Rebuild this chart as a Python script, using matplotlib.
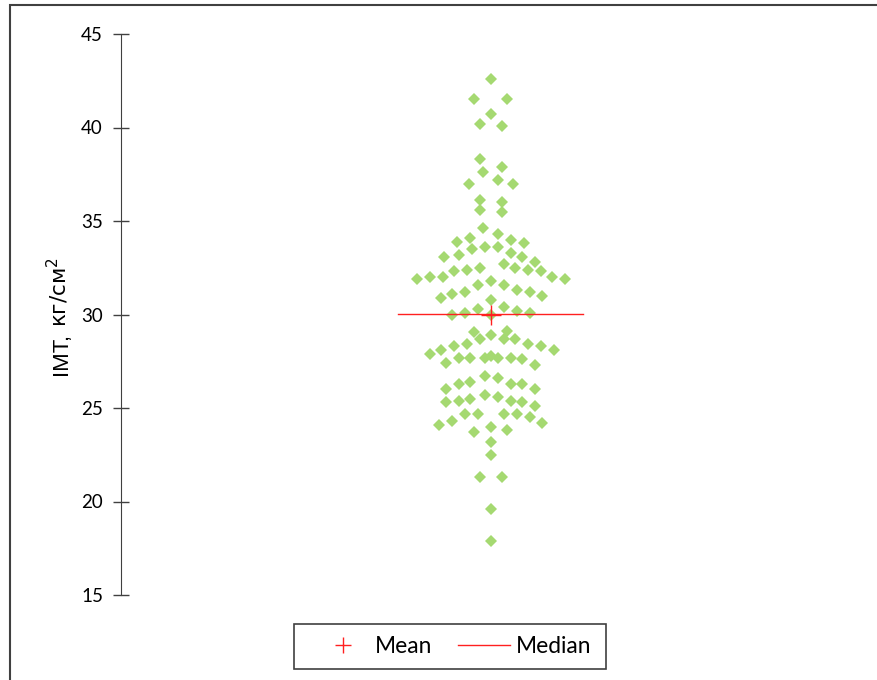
import matplotlib
matplotlib.use('Agg')
import matplotlib.pyplot as plt
from matplotlib.lines import Line2D
from matplotlib.patches import Rectangle

# BMI values, top to bottom, with horizontal swarm offsets
bmi = [42.6, 41.5, 41.5, 40.7, 40.2, 40.1, 38.3, 37.9, 37.6, 37.2,
       37.0, 37.0, 36.1, 36.0, 35.6, 35.5, 34.6, 34.3, 34.1, 34.0,
       33.9, 33.8, 33.6, 33.6, 33.5, 33.3, 33.2, 33.1, 33.1, 32.8,
       32.7, 32.5, 32.5, 32.4, 32.4, 32.3, 32.3, 32.0, 32.0, 32.0,
       31.9, 31.9, 31.8, 31.6, 31.6, 31.3, 31.2, 31.2, 31.1, 31.0,
       30.9, 30.8, 30.4, 30.3, 30.2, 30.1, 30.1, 30.0, 30.0, 29.1,
       29.05, 28.9, 28.7, 28.7, 28.7, 28.4, 28.4, 28.3, 28.3, 28.1,
       28.1, 27.9, 27.8, 27.7, 27.7, 27.7, 27.7, 27.7, 27.6, 27.4,
       27.3, 26.7, 26.6, 26.4, 26.3, 26.3, 26.3, 26.0, 26.0, 25.7,
       25.6, 25.5, 25.4, 25.4, 25.3, 25.3, 25.1, 24.7, 24.7, 24.7,
       24.7, 24.5, 24.3, 24.2, 24.1, 24.0, 23.8, 23.7, 23.2, 22.5,
       21.3, 21.3, 19.6, 17.9]
offset = [0.00, -0.09, 0.09, 0.00, -0.06, 0.06, -0.06, 0.06, -0.04, 0.04,
          -0.12, 0.12, -0.06, 0.06, -0.06, 0.06, -0.04, 0.04, -0.11, 0.11,
          -0.18, 0.18, -0.03, 0.04, -0.10, 0.11, -0.17, -0.25, 0.17, 0.24,
          0.07, -0.06, 0.13, -0.13, 0.20, -0.20, 0.27, -0.33, -0.26, 0.33,
          -0.40, 0.40, 0.00, -0.07, 0.07, 0.14, 0.21, -0.14, -0.21, 0.28,
          -0.27, 0.00, 0.07, -0.07, 0.14, -0.14, 0.21, -0.21, 0.00, 0.09,
          -0.09, 0.00, -0.06, 0.07, 0.13, -0.13, 0.20, -0.20, 0.27, -0.27,
          0.34, -0.33, 0.00, -0.17, -0.11, -0.03, 0.04, 0.11, 0.17, -0.24,
          0.24, -0.03, 0.04, -0.11, -0.17, 0.11, 0.17, -0.24, 0.24, -0.03,
          0.04, -0.11, -0.17, 0.11, 0.17, -0.24, 0.24, -0.14, -0.07, 0.07,
          0.14, 0.21, -0.21, 0.28, -0.28, 0.00, 0.09, -0.09, 0.00, 0.00,
          -0.06, 0.06, 0.00, 0.00]

mean_bmi = 30.0
median_bmi = 30.05
yticks = [15, 20, 25, 30, 35, 40, 45]

W, H = 878, 680
fig = plt.figure(figsize=(W / 100, H / 100), dpi=100)
ax = fig.add_axes([121 / W, 85 / H, 739.4 / W, 561 / H])

ax.plot(offset, bmi, linestyle='none', marker='D', markersize=5.7,
        color='#A5D971', markeredgewidth=0, zorder=3)
ax.plot([-0.5, 0.5], [median_bmi, median_bmi], color='#FF2020', lw=1.0, zorder=4)
ax.plot([0], [mean_bmi], linestyle='none', marker='+', markersize=15,
        markeredgewidth=1.0, color='#FF2020', zorder=5)

ax.set_xlim(-2, 2)
ax.set_ylim(15, 45)
ax.set_yticks(yticks)
for side in ['top', 'right', 'bottom']:
    ax.spines[side].set_visible(False)
ax.spines['left'].set_color('#404040')
ax.set_xticks([])
ax.tick_params(axis='y', direction='inout', length=12, width=1, color='#404040',
               labelsize=13.5, pad=7)
for lab in ax.get_yticklabels():
    lab.set_family('Lato')

# y label in two sizes, sharing one baseline
base_x = 67 / W
t1 = fig.text(base_x, 1 - 375 / H, 'ІМТ,', rotation=90, rotation_mode='anchor',
              ha='left', va='baseline', fontsize=16, family=['Liberation Sans'])
fig.canvas.draw()
bb = t1.get_window_extent()
fig.text(base_x, (bb.y1 + 6) / H, r'кг/см$^\mathregular{2}$', rotation=90,
         rotation_mode='anchor', ha='left', va='baseline', fontsize=15.5,
         family=['DejaVu Sans'])

# outer chart frame
fig.add_artist(Rectangle((10.5 / W, -0.1), 2, 1.1 - 4.7 / H, transform=fig.transFigure,
                         fill=False, edgecolor='#404040', lw=1.5))

# legend: entries without frame, box drawn separately
handles = [Line2D([], [], linestyle='none', marker='+', markersize=11,
                  markeredgewidth=1.0, color='#FF2020'),
           Line2D([], [], color='#FF2020', lw=1.0)]
fig.legend(handles, ['Mean', 'Median'], loc='center',
           bbox_to_anchor=(454.5 / W, 1 - 646.5 / H), ncol=2, frameon=False,
           prop={'family': 'Lato', 'size': 16.4}, handlelength=2.28,
           handletextpad=0.26, columnspacing=1.14, borderpad=0)
fig.add_artist(Rectangle((294 / W, 1 - 669 / H), 312 / W, 45 / H,
                         transform=fig.transFigure, fill=False,
                         edgecolor='#404040', lw=1.2))

fig.savefig('out.png', dpi=100)
